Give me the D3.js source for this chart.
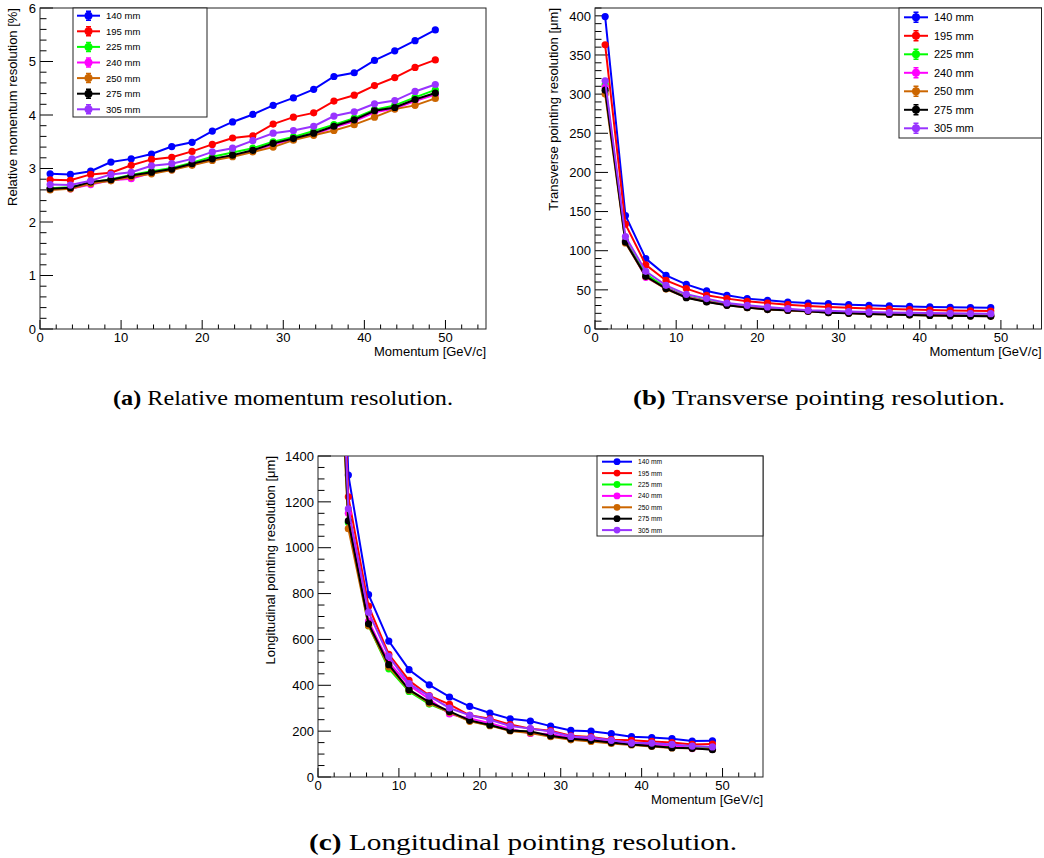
<!DOCTYPE html>
<html>
<head>
<meta charset="utf-8">
<script src="https://cdn.jsdelivr.net/npm/d3@7"></script>
<style>
  body { margin: 0; background: #fff; }
  svg { display: block; }
  .tick-label, .axis-title, .legend-text { font-family: "Liberation Sans", Arial, sans-serif; fill: #000; }
  .caption { font-family: "Liberation Serif", "Times New Roman", serif; fill: #000; }
</style>
</head>
<body>
<svg id="chart" width="1044" height="858"></svg>
<script>

// momentum bins [GeV/c]
var momentum = [ 1.25, 3.75, 6.25, 8.75, 11.25, 13.75, 16.25, 18.75, 21.25, 23.75,
                 26.25, 28.75, 31.25, 33.75, 36.25, 38.75, 41.25, 43.75, 46.25, 48.75 ];

var seriesLabels = [ '140 mm', '195 mm', '225 mm', '240 mm', '250 mm', '275 mm', '305 mm' ];
var seriesColors = [ '#0000ff', '#ff0000', '#00ff00', '#ff00ff', '#cc6600', '#000000', '#9933ff' ];

// (a) relative momentum resolution [%]
var momRes140 = [ 2.90, 2.89, 2.95, 3.12, 3.18, 3.27, 3.41, 3.49, 3.70, 3.87, 4.01, 4.18, 4.32, 4.48, 4.72, 4.79, 5.02, 5.20, 5.39, 5.59 ];
var momRes195 = [ 2.79, 2.78, 2.89, 2.92, 3.06, 3.17, 3.21, 3.32, 3.45, 3.57, 3.61, 3.83, 3.96, 4.04, 4.26, 4.37, 4.55, 4.70, 4.89, 5.03 ];
var momRes225 = [ 2.63, 2.65, 2.74, 2.80, 2.88, 2.95, 3.01, 3.11, 3.22, 3.30, 3.38, 3.50, 3.59, 3.70, 3.82, 3.94, 4.10, 4.18, 4.33, 4.47 ];
var momRes240 = [ 2.61, 2.62, 2.70, 2.78, 2.81, 2.92, 2.98, 3.08, 3.17, 3.24, 3.33, 3.45, 3.55, 3.64, 3.77, 3.88, 4.05, 4.12, 4.26, 4.38 ];
var momRes250 = [ 2.60, 2.62, 2.72, 2.77, 2.84, 2.90, 2.97, 3.06, 3.15, 3.22, 3.31, 3.40, 3.53, 3.62, 3.71, 3.82, 3.96, 4.11, 4.18, 4.31 ];
var momRes275 = [ 2.62, 2.64, 2.75, 2.79, 2.87, 2.93, 2.99, 3.09, 3.18, 3.25, 3.34, 3.47, 3.56, 3.66, 3.79, 3.91, 4.08, 4.14, 4.29, 4.41 ];
var momRes305 = [ 2.70, 2.69, 2.77, 2.89, 2.93, 3.05, 3.09, 3.18, 3.31, 3.38, 3.52, 3.66, 3.71, 3.79, 3.98, 4.06, 4.21, 4.27, 4.44, 4.57 ];

// (b) transverse pointing resolution [um]
var trRes140 = [ 399, 145, 90, 68.6, 57, 48.6, 43, 38.8, 36.6, 34.5, 33.2, 32.4, 31.1, 30.3, 29.5, 28.8, 28.2, 27.8, 27.4, 27.2 ];
var trRes195 = [ 363, 134, 82, 62, 51.6, 43, 38.8, 35.4, 33.2, 31.1, 29.4, 28.1, 27, 26.2, 25.4, 24.8, 24.2, 23.7, 23.3, 23 ];
var trRes225 = [ 312, 113, 70, 53, 42, 36.5, 31.5, 28.5, 26.2, 24.6, 23.2, 21.8, 21, 20.3, 19.7, 19.1, 18.7, 18.3, 18, 17.7 ];
var trRes240 = [ 309, 112, 66, 52, 41, 35.5, 30.8, 28, 25.6, 24, 22.8, 21.5, 20.6, 19.8, 19.2, 18.6, 18.1, 17.7, 17.4, 17.1 ];
var trRes250 = [ 300, 110, 67, 51, 40.3, 34.8, 30.3, 27.3, 24.8, 23.6, 22.4, 21, 20, 19.2, 18.5, 17.9, 17.4, 17, 16.6, 16.3 ];
var trRes275 = [ 305, 111, 67.3, 51.6, 40, 34.5, 30.3, 27.3, 24.8, 23.9, 22.6, 20.9, 20, 19.2, 18.5, 17.9, 17.4, 16.9, 16.5, 16.2 ];
var trRes305 = [ 317, 118, 73.7, 55.8, 44.3, 38.8, 33.2, 30.3, 28.1, 26, 23.9, 23.2, 22.2, 21.6, 21.1, 20.7, 20.3, 20.0, 19.8, 19.6 ];

// (c) longitudinal pointing resolution [um] (first bin is off scale)
var lgRes140 = [ 3650, 1317, 795, 593, 468, 402, 349, 308, 279, 254, 244, 222, 203, 200, 189, 176, 172, 167, 157, 158 ];
var lgRes195 = [ 3350, 1222, 745, 535, 421, 355, 317, 269, 254, 229, 210, 202, 180, 175, 163, 160, 155, 150, 142, 144 ];
var lgRes225 = [ 3050, 1110, 660, 472, 373, 318, 282, 245, 225, 205, 195, 180, 168, 160, 150, 144, 138, 132, 128, 126 ];
var lgRes240 = [ 3150, 1150, 680, 500, 400, 340, 275, 255, 235, 210, 190, 188, 170, 165, 155, 148, 142, 138, 124, 121 ];
var lgRes250 = [ 2980, 1083, 660, 480, 378, 322, 282, 243, 224, 201, 192, 176, 162, 155, 146, 140, 133, 127, 125, 121 ];
var lgRes275 = [ 3070, 1117, 668, 490, 381, 327, 286, 247, 227, 203, 198, 180, 167, 160, 150, 142, 135, 128, 125, 119 ];
var lgRes305 = [ 3250, 1170, 719, 526, 407, 353, 301, 269, 250, 222, 211, 198, 177, 172, 160, 148, 148, 142, 135, 131 ];

var xTicks = [ 0, 10, 20, 30, 40, 50 ];
var yTicksA = [ 0, 1, 2, 3, 4, 5, 6 ];
var yTicksB = [ 0, 50, 100, 150, 200, 250, 300, 350, 400 ];
var yTicksC = [ 0, 200, 400, 600, 800, 1000, 1200, 1400 ];

var captions = [
	{ tag: '(a)', text: 'Relative momentum resolution.' },
	{ tag: '(b)', text: 'Transverse pointing resolution.' },
	{ tag: '(c)', text: 'Longitudinal pointing resolution.' }
];

var svg = d3.select( '#chart' );


/**
 * Draws one ROOT-style graph pad.
 */
function drawPanel( cfg ) {
	var g = svg.append( 'g' ),
		x = d3.scaleLinear().domain( [ 0, 55 ] ).range( [ cfg.left, cfg.right ] ),
		y = d3.scaleLinear().domain( [ 0, cfg.yMax ] ).range( [ cfg.bottom, cfg.top ] ),
		clipId = 'clip-' + cfg.name;

	g.append( 'clipPath' ).attr( 'id', clipId )
		.append( 'rect' )
		.attr( 'x', cfg.left ).attr( 'y', cfg.top )
		.attr( 'width', cfg.right - cfg.left ).attr( 'height', cfg.bottom - cfg.top );

	// x ticks: major every 10, minor every 2, pointing inwards
	var xMinor = d3.range( 0, 55.01, 2 ).filter( function( v ) { return v % 10 !== 0; } );
	g.selectAll( 'line.xmin' ).data( xMinor ).enter().append( 'line' )
		.attr( 'x1', x ).attr( 'x2', x )
		.attr( 'y1', cfg.bottom ).attr( 'y2', cfg.bottom - 4.5 )
		.attr( 'stroke', '#000' );
	g.selectAll( 'line.xmaj' ).data( xTicks ).enter().append( 'line' )
		.attr( 'x1', x ).attr( 'x2', x )
		.attr( 'y1', cfg.bottom ).attr( 'y2', cfg.bottom - 9 )
		.attr( 'stroke', '#000' );
	g.selectAll( 'text.xlab' ).data( xTicks ).enter().append( 'text' )
		.attr( 'class', 'tick-label' )
		.attr( 'x', x ).attr( 'y', cfg.bottom + 12.5 )
		.attr( 'text-anchor', 'middle' ).attr( 'font-size', 13 )
		.text( function( d ) { return d; } );

	// y ticks
	var yStep = cfg.yTicks[ 1 ] - cfg.yTicks[ 0 ],
		yMinor = d3.range( 0, cfg.yMax + 1e-9, yStep / cfg.yMinorDiv ).filter( function( v ) {
			return Math.abs( v / yStep - Math.round( v / yStep ) ) > 1e-6;
		} );
	g.selectAll( 'line.ymin' ).data( yMinor ).enter().append( 'line' )
		.attr( 'x1', cfg.left ).attr( 'x2', cfg.left + 6.5 )
		.attr( 'y1', y ).attr( 'y2', y )
		.attr( 'stroke', '#000' );
	g.selectAll( 'line.ymaj' ).data( cfg.yTicks ).enter().append( 'line' )
		.attr( 'x1', cfg.left ).attr( 'x2', cfg.left + 13 )
		.attr( 'y1', y ).attr( 'y2', y )
		.attr( 'stroke', '#000' );
	g.selectAll( 'text.ylab' ).data( cfg.yTicks ).enter().append( 'text' )
		.attr( 'class', 'tick-label' )
		.attr( 'x', cfg.left - 4 ).attr( 'y', y ).attr( 'dy', '0.36em' )
		.attr( 'text-anchor', 'end' ).attr( 'font-size', 13 )
		.text( function( d ) { return d; } );

	// axis titles
	g.append( 'text' ).attr( 'class', 'axis-title' )
		.attr( 'x', cfg.right ).attr( 'y', cfg.bottom + 26.5 )
		.attr( 'text-anchor', 'end' ).attr( 'font-size', 13 )
		.text( 'Momentum [GeV/c]' );
	g.append( 'text' ).attr( 'class', 'axis-title' )
		.attr( 'transform', 'translate(' + cfg.yTitleX + ',' + cfg.top + ') rotate(-90)' )
		.attr( 'text-anchor', 'end' ).attr( 'font-size', 13 )
		.text( cfg.yTitle );

	// frame
	g.append( 'rect' )
		.attr( 'x', cfg.left ).attr( 'y', cfg.top )
		.attr( 'width', cfg.right - cfg.left ).attr( 'height', cfg.bottom - cfg.top )
		.attr( 'fill', 'none' ).attr( 'stroke', '#222' ).attr( 'stroke-width', 1 );

	// graphs
	var line = d3.line()
		.x( function( d, i ) { return x( momentum[ i ] ); } )
		.y( function( d ) { return y( d ); } );
	var plot = g.append( 'g' ).attr( 'clip-path', 'url(#' + clipId + ')' );

	cfg.series.forEach( function( values, k ) {
		plot.append( 'path' )
			.attr( 'd', line( values ) )
			.attr( 'fill', 'none' )
			.attr( 'stroke', seriesColors[ k ] )
			.attr( 'stroke-width', 2 );
		plot.selectAll( null ).data( values ).enter().append( 'circle' )
			.attr( 'cx', function( d, i ) { return x( momentum[ i ] ); } )
			.attr( 'cy', function( d ) { return y( d ); } )
			.attr( 'r', cfg.markerR )
			.attr( 'fill', seriesColors[ k ] );
	} );

	// legend
	var lg = cfg.legend;
	g.append( 'rect' )
		.attr( 'x', lg.x0 ).attr( 'y', lg.y0 )
		.attr( 'width', lg.x1 - lg.x0 ).attr( 'height', lg.y1 - lg.y0 )
		.attr( 'fill', '#fff' ).attr( 'stroke', '#222' );

	seriesLabels.forEach( function( label, k ) {
		var ly = lg.first + k * lg.step,
			cx = ( lg.lineX0 + lg.lineX1 ) / 2;
		g.append( 'line' )
			.attr( 'x1', lg.lineX0 ).attr( 'x2', lg.lineX1 )
			.attr( 'y1', ly ).attr( 'y2', ly )
			.attr( 'stroke', seriesColors[ k ] ).attr( 'stroke-width', 2 );
		if ( lg.errBar ) {
			g.append( 'path' )
				.attr( 'd', 'M' + ( cx - 2.5 ) + ',' + ( ly - lg.errBar ) + 'H' + ( cx + 2.5 ) +
					'M' + cx + ',' + ( ly - lg.errBar ) + 'V' + ( ly + lg.errBar ) +
					'M' + ( cx - 2.5 ) + ',' + ( ly + lg.errBar ) + 'H' + ( cx + 2.5 ) )
				.attr( 'stroke', seriesColors[ k ] ).attr( 'stroke-width', 1.5 ).attr( 'fill', 'none' );
		}
		g.append( 'circle' )
			.attr( 'cx', cx ).attr( 'cy', ly ).attr( 'r', lg.markerR )
			.attr( 'fill', seriesColors[ k ] );
		g.append( 'text' ).attr( 'class', 'legend-text' )
			.attr( 'x', lg.textX ).attr( 'y', ly ).attr( 'dy', '0.36em' )
			.attr( 'font-size', lg.fontSize )
			.text( label );
	} );
}


drawPanel( {
	name: 'a', left: 40, right: 486, top: 8, bottom: 329,
	yMax: 6, yTicks: yTicksA, yMinorDiv: 5,
	yTitle: 'Relative momentum resolution [%]', yTitleX: 17,
	markerR: 3.6,
	series: [ momRes140, momRes195, momRes225, momRes240, momRes250, momRes275, momRes305 ],
	legend: { x0: 73, x1: 207, y0: 8, y1: 117, first: 15.7, step: 15.6,
		lineX0: 77, lineX1: 100, textX: 106, fontSize: 9.5, markerR: 4, errBar: 4.5 }
} );

drawPanel( {
	name: 'b', left: 595, right: 1041.5, top: 8, bottom: 329,
	yMax: 410, yTicks: yTicksB, yMinorDiv: 5,
	yTitle: 'Transverse pointing resolution [\u03bcm]', yTitleX: 558,
	markerR: 3.6,
	series: [ trRes140, trRes195, trRes225, trRes240, trRes250, trRes275, trRes305 ],
	legend: { x0: 899, x1: 1041.5, y0: 8, y1: 138, first: 17.3, step: 18.5,
		lineX0: 904, lineX1: 928, textX: 934, fontSize: 11, markerR: 4, errBar: 5 }
} );

drawPanel( {
	name: 'c', left: 318, right: 763, top: 456, bottom: 777,
	yMax: 1400, yTicks: yTicksC, yMinorDiv: 4,
	yTitle: 'Longitudinal pointing resolution [\u03bcm]', yTitleX: 275,
	markerR: 3.6,
	series: [ lgRes140, lgRes195, lgRes225, lgRes240, lgRes250, lgRes275, lgRes305 ],
	legend: { x0: 597, x1: 763, y0: 456, y1: 536, first: 461.7, step: 11.4,
		lineX0: 602, lineX1: 632, textX: 638, fontSize: 6.7, markerR: 3.4, errBar: 0 }
} );

// sub-figure captions (stretched to the width of the original serif face)
var capPos = [ { x: 283, y: 405, w: 340, fs: 22 }, { x: 819, y: 405, w: 372, fs: 22 }, { x: 523, y: 850, w: 428, fs: 24 } ];
captions.forEach( function( c, i ) {
	var t = svg.append( 'text' ).attr( 'class', 'caption' )
		.attr( 'x', capPos[ i ].x ).attr( 'y', capPos[ i ].y )
		.attr( 'text-anchor', 'middle' ).attr( 'font-size', capPos[ i ].fs )
		.attr( 'textLength', capPos[ i ].w ).attr( 'lengthAdjust', 'spacingAndGlyphs' );
	t.append( 'tspan' ).attr( 'font-weight', 'bold' ).text( c.tag );
	t.append( 'tspan' ).text( ' ' + c.text );
} );

</script>
</body>
</html>
